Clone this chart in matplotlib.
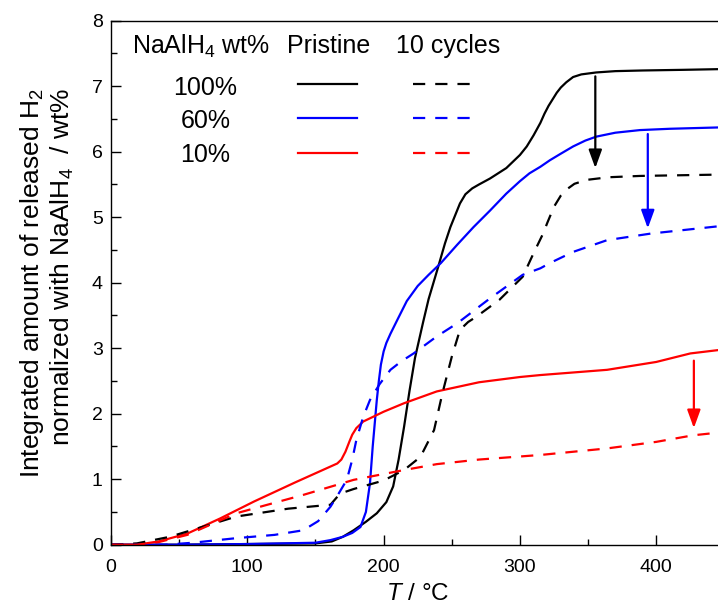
import matplotlib
matplotlib.use("Agg")
import matplotlib.pyplot as plt
from matplotlib.ticker import MultipleLocator

plt.rcParams['font.family'] = ['Liberation Sans', 'DejaVu Sans']
plt.rcParams['mathtext.fontset'] = 'custom'
plt.rcParams['mathtext.rm'] = 'Liberation Sans'
plt.rcParams['mathtext.it'] = 'Liberation Sans:italic'
plt.rcParams['mathtext.default'] = 'regular'

# ---------------- data ----------------
x_k_pr = [0, 50, 100, 150, 162, 170, 178, 187, 195, 202, 207, 211, 215, 219, 223, 229, 233,
          240, 245, 249, 256, 260, 265, 270, 278, 290, 300, 305, 310, 315, 318, 321, 324, 327,
          330, 334, 339, 345, 356, 370, 390, 420, 445]
y_k_pr = [0, 0, 0.01, 0.02, 0.05, 0.12, 0.22, 0.35, 0.48, 0.65, 0.89, 1.3, 1.8, 2.35, 2.85, 3.4, 3.75,
          4.24, 4.6, 4.85, 5.21, 5.35, 5.44, 5.5, 5.59, 5.75, 5.95, 6.08, 6.25, 6.44, 6.58, 6.7, 6.8, 6.9,
          6.98, 7.06, 7.14, 7.18, 7.21, 7.23, 7.24, 7.25, 7.26]

x_b_pr = [0, 50, 100, 150, 161, 170, 177, 183, 187, 190, 192, 195, 196.5, 198, 200, 202, 205, 210,
          217, 225, 233, 242, 254, 266, 278, 290, 300, 307, 315, 322, 330, 339, 348, 356, 370,
          388, 410, 445]
y_b_pr = [0, 0, 0.01, 0.03, 0.07, 0.12, 0.18, 0.27, 0.5, 0.94, 1.5, 2.21, 2.5, 2.75, 2.95, 3.08, 3.22, 3.43,
          3.72, 3.95, 4.12, 4.3, 4.58, 4.85, 5.1, 5.36, 5.55, 5.67, 5.77, 5.87, 5.97, 6.08, 6.17, 6.23, 6.29,
          6.33, 6.35, 6.37]

x_r_pr = [0, 19, 35, 56, 80, 105, 135, 166, 169, 172, 175, 177, 180, 185, 200, 215, 239, 270, 300,
          315, 364, 400, 425, 445]
y_r_pr = [0, 0, 0.05, 0.17, 0.4, 0.66, 0.95, 1.24, 1.3, 1.42, 1.58, 1.68, 1.78, 1.88, 2.03, 2.16, 2.34, 2.48,
          2.56, 2.59, 2.67, 2.79, 2.92, 2.97]

x_k_cy = [0, 19, 43, 92, 130, 161, 168, 178, 200, 215, 227, 237, 243, 250, 256, 262, 268, 285, 302,
          310, 317, 320, 325, 330, 334, 340, 349, 365, 388, 445]
y_k_cy = [0, 0.02, 0.12, 0.43, 0.55, 0.61, 0.78, 0.85, 0.98, 1.14, 1.34, 1.75, 2.3, 2.87, 3.28, 3.4, 3.48,
          3.74, 4.09, 4.45, 4.75, 4.91, 5.16, 5.33, 5.42, 5.51, 5.57, 5.61, 5.63, 5.65]

x_b_cy = [0, 40, 60, 92, 120, 141, 152, 161, 167, 173, 177, 180, 185, 190, 197, 205, 213, 222,
          239, 254, 278, 302, 315, 322, 339, 364, 396, 445]
y_b_cy = [0, 0, 0.03, 0.1, 0.15, 0.22, 0.36, 0.58, 0.78, 0.99, 1.3, 1.6, 1.95, 2.21, 2.45, 2.67, 2.8, 2.92,
          3.18, 3.38, 3.76, 4.12, 4.22, 4.3, 4.47, 4.65, 4.75, 4.86]

x_r_cy = [0, 19, 35, 56, 92, 141, 178, 215, 239, 270, 315, 364, 400, 427, 445]
y_r_cy = [0, 0, 0.04, 0.15, 0.48, 0.76, 0.99, 1.14, 1.23, 1.3, 1.37, 1.47, 1.57, 1.67, 1.71]

arrow_x = [355.3, 393.8, 427.6]
arrow_from = [7.15, 6.27, 2.81]
arrow_to = [5.75, 4.83, 1.78]
arrow_colors = ['black', 'blue', 'red']

wt_labels = ['100%', '60%', '10%']
x_ticks = [0, 100, 200, 300, 400]
y_ticks = [0, 1, 2, 3, 4, 5, 6, 7, 8]

# ---------------- figure ----------------
W, H = 718, 603
fig = plt.figure(figsize=(W / 100, H / 100), dpi=100)
ax_l, ax_r, ax_t, ax_b = 111, 724.4, 20.7, 544.7
ax = fig.add_axes([ax_l / W, (H - ax_b) / H, (ax_r - ax_l) / W, (ax_b - ax_t) / H])

lw = 1.6
dash = (5.5, 4.5)
l1, = ax.plot(x_k_pr, y_k_pr, color='black', lw=lw)
l2, = ax.plot(x_b_pr, y_b_pr, color='blue', lw=lw)
l3, = ax.plot(x_r_pr, y_r_pr, color='red', lw=lw)
l4, = ax.plot(x_k_cy, y_k_cy, color='black', lw=lw, ls=(0, dash))
l5, = ax.plot(x_b_cy, y_b_cy, color='blue', lw=lw, ls=(0, dash))
l6, = ax.plot(x_r_cy, y_r_cy, color='red', lw=lw, ls=(0, dash))

for xa, y0, y1, c in zip(arrow_x, arrow_from, arrow_to, arrow_colors):
    ax.annotate('', xy=(xa, y1), xytext=(xa, y0),
                arrowprops=dict(arrowstyle='-|>,head_length=0.55,head_width=0.2',
                                color=c, lw=1.6, shrinkA=0, shrinkB=0, mutation_scale=20))

ax.set_xlim(0, 450)
ax.set_ylim(0, 8)
ax.set_xticks(x_ticks)
ax.set_yticks(y_ticks)
ax.xaxis.set_minor_locator(MultipleLocator(50))
ax.yaxis.set_minor_locator(MultipleLocator(0.5))
ax.tick_params(which='both', direction='in', top=False, right=False, width=1.0, labelsize=14)
ax.tick_params(which='major', length=7)
ax.tick_params(which='minor', length=4)
ax.tick_params(axis='x', pad=10)
ax.tick_params(axis='y', pad=6)
for s in ax.spines.values():
    s.set_linewidth(1.0)

ax.set_xlabel('$\\mathit{T}$ / °C', fontsize=17.5, labelpad=5)

fig.text(47 / W, 1 - 283 / H,
         'Integrated amount of released H$_2$\nnormalized with NaAlH$_4$  / wt%',
         rotation=90, ha='center', va='center', multialignment='right', fontsize=19,
         linespacing=1.1)

# table-like legend: first column solid (pristine), second dashed (10 cycles)
fs = 18
fpx = fs * 100 / 72
leg = ax.legend([l1, l2, l3, l4, l5, l6], [''] * 6, ncol=2, frameon=False,
                handlelength=59.6 / fpx, handletextpad=0, columnspacing=55.7 / fpx,
                labelspacing=0.42, borderpad=0, borderaxespad=0, fontsize=fs,
                loc='upper left', bbox_to_anchor=(297.7 / W, 1 - 73.3 / H),
                bbox_transform=fig.transFigure)

fig.text(131.7 / W, 1 - 53.3 / H, 'NaAlH$_4$ wt%', fontsize=fs, ha='left', va='baseline')
fig.text(329 / W, 1 - 53.3 / H, 'Pristine', fontsize=fs, ha='center', va='baseline')
fig.text(448.3 / W, 1 - 53.3 / H, '10 cycles', fontsize=fs, ha='center', va='baseline')
for lab, yb in zip(wt_labels, [95, 128.3, 161.7]):
    fig.text(205.5 / W, 1 - yb / H, lab, fontsize=fs, ha='center', va='baseline')

fig.savefig('out.png', dpi=100)
